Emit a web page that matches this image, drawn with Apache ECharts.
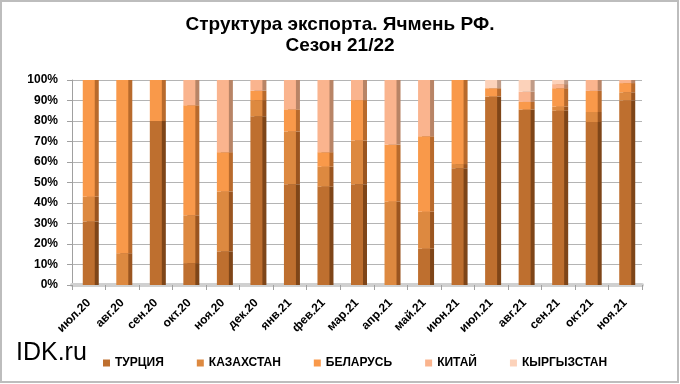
<!DOCTYPE html>
<html><head><meta charset="utf-8">
<script src="https://cdn.jsdelivr.net/npm/echarts@6/dist/echarts.min.js"></script>
<style>html,body{margin:0;padding:0;background:#fff}#c{width:680px;height:384px}</style>
</head><body><div id="c"></div>
<script>
const categories = ['июл.20','авг.20','сен.20','окт.20','ноя.20','дек.20','янв.21','фев.21','мар.21','апр.21','май.21','июн.21','июл.21','авг.21','сен.21','окт.21','ноя.21'];
const turkey     = [31, 0, 80, 10.7, 16.4, 82.3, 49.2, 48, 49.2, 0, 17.7, 57, 92, 85.6, 85, 79.5, 90];
const kazakhstan = [12, 15.5, 0, 23.3, 29.2, 7.9, 25.7, 9.7, 21.3, 40.7, 18, 2, 0, 0, 2, 4.9, 4];
const belarus    = [57, 84.5, 20, 53.7, 19.2, 4.6, 10.8, 7.1, 19.7, 27.8, 36.9, 41, 4, 3.7, 9, 10.3, 4.5];
const china      = [0, 0, 0, 12.3, 35.2, 5.2, 14.3, 35.2, 9.8, 31.5, 27.4, 0, 0, 5, 2, 5.3, 1.5];
const kyrgyzstan = [0, 0, 0, 0, 0, 0, 0, 0, 0, 0, 0, 0, 4, 5.7, 2, 0, 0];
const yTicks = [0,10,20,30,40,50,60,70,80,90,100];

const names = ['ТУРЦИЯ','КАЗАХСТАН','БЕЛАРУСЬ','КИТАЙ','КЫРГЫЗСТАН'];
const colors = ['#be6f2f','#dd8940','#f9994a','#fab48e','#fcd2ba'];
const shadows = ['#7e4518','#9a5520','#b86a2c','#b88466','#c09c88'];
const values = [turkey, kazakhstan, belarus, china, kyrgyzstan];

const chart = echarts.init(document.getElementById('c'));
chart.setOption({
  animation: false,
  textStyle: { fontFamily: 'Liberation Sans, Arial, sans-serif' },
  title: {
    text: 'Структура экспорта. Ячмень РФ.\nСезон 21/22',
    left: 'center', top: 9,
    textStyle: { fontSize: 19, fontWeight: 'bold', color: '#000', lineHeight: 21, fontFamily: 'Liberation Sans, Arial, sans-serif' }
  },
  graphic: [
    { type: 'rect', shape: { x: 1, y: 1, width: 677, height: 381 }, style: { fill: 'none', stroke: '#bdbdbd', lineWidth: 2 } },
    { type: 'text', left: 16, top: 341, style: { text: 'IDK.ru', fontSize: 25, fill: '#000', fontFamily: 'Liberation Sans, Arial, sans-serif' } }
  ],
  legend: {
    data: names, left: 98, top: 352, itemWidth: 7, itemHeight: 7, itemGap: 33, icon: 'rect',
    textStyle: { fontSize: 12, fontWeight: 'bold', color: '#000' }
  },
  grid: { left: 72, right: 38, top: 80, bottom: 99 },
  xAxis: {
    type: 'category', data: categories,
    axisLine: { lineStyle: { color: '#d0d0d0', width: 4 } },
    axisTick: { show: true, lineStyle: { color: '#a0a0a0' }, length: 5 },
    axisLabel: { interval: 0, rotate: 45, fontSize: 12, fontWeight: 'bold', color: '#000', margin: 16 }
  },
  yAxis: {
    type: 'value', min: 0, max: 100, interval: 10,
    axisLine: { show: true, lineStyle: { color: '#a0a0a0' } },
    axisTick: { show: true, lineStyle: { color: '#a0a0a0' } },
    splitLine: { lineStyle: { color: '#b4b4b4', width: 1 } },
    axisLabel: { formatter: v => yTicks.includes(v) ? v + '%' : '', fontSize: 12, fontWeight: 'bold', color: '#000', margin: 14 }
  },
  series: values.map((d, i) => ({
    name: names[i], type: 'bar', stack: 'total', barWidth: 12, data: d,
    itemStyle: { color: colors[i], shadowColor: shadows[i], shadowOffsetX: 4, shadowOffsetY: 0, shadowBlur: 0 }
  }))
});
</script></body></html>
